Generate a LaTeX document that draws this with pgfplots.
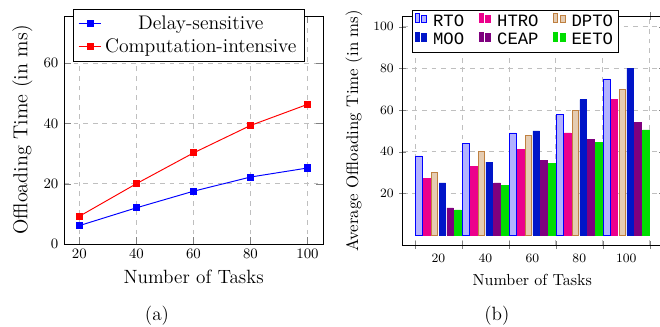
\documentclass[border=0pt]{standalone}
\usepackage{fontspec}
\usepackage{pgfplots}
\pgfplotsset{compat=1.18}
\newfontfamily\legmono{Liberation Mono}
\definecolor{htro}{HTML}{EC008C}
\definecolor{moo}{HTML}{0015C8}
\definecolor{ceap}{HTML}{7F007F}
\definecolor{eeto}{HTML}{00DD00}
\definecolor{gridgray}{HTML}{BFBFBF}
\begin{document}
\begin{tikzpicture}
\useasboundingbox (-40pt,-51.25pt) rectangle (372.5pt,152.5pt);
\begin{axis}[
  scale only axis, width=162pt, height=142.5pt,
  xmin=14.6, xmax=105.5, ymin=0, ymax=75.6,
  xtick={20,40,60,80,100}, ytick={0,20,40,60},
  grid=major, grid style={dashed, gridgray},
  tick label style={font=\fontsize{9}{10}\selectfont},
  xlabel={Number of Tasks}, ylabel={Offloading Time (in ms)},
  xlabel style={font=\fontsize{12}{14}\selectfont},
  ylabel style={font=\fontsize{12.6}{14}\selectfont},
  legend style={at={(0.035,1.03)}, anchor=north west, font=\fontsize{12.3}{14}\selectfont},
  legend cell align=center,
  legend image code/.code={\draw[mark repeat=2,mark phase=2,#1] plot coordinates {(0cm,0cm) (0.25cm,0cm) (0.5cm,0cm)};},
]
\addplot[blue, line width=0.6pt, mark=square*, mark size=1.9pt] coordinates {(20,6.1) (40,12.0) (60,17.5) (80,22.2) (100,25.2)};
\addlegendentry{Delay-sensitive}
\addplot[red, line width=0.6pt, mark=square*, mark size=1.9pt] coordinates {(20,9.2) (40,20.0) (60,30.2) (80,39.3) (100,46.3)};
\addlegendentry{Computation-intensive}
\end{axis}
\begin{axis}[
  at={(211.7pt,-0.6pt)},
  scale only axis, width=162pt, height=143pt,
  ybar, bar width=0.14,
  xmin=0.24, xmax=5.76, ymin=-4.8, ymax=105.1,
  xtick={1,2,3,4,5}, xticklabels={20,40,60,80,100},
  major x tick style={draw=none},
  minor xtick={0.5,1.5,2.5,3.5,4.5,5.5},
  xmajorgrids=false, xminorgrids=true, ymajorgrids=true,
  ytick={20,40,60,80,100},
  minor tick length=5pt, tick align=center,
  grid style={dashed, gridgray}, minor grid style={dashed, gridgray},
  tick label style={font=\fontsize{8}{9}\selectfont},
  xlabel={Number of Tasks}, ylabel={Average Offloading Time (in ms)},
  xlabel style={font=\fontsize{10}{12}\selectfont},
  ylabel style={font=\fontsize{10.5}{12}\selectfont},
  legend style={at={(0.035,1.029)}, anchor=north west, font=\legmono\fontsize{10.8}{13}\selectfont,
    inner xsep=1.5pt, inner ysep=1.5pt, nodes={inner sep=1.5pt},
    /tikz/every odd column/.append style={column sep=2.5pt},
    /tikz/every even column/.append style={column sep=7.5pt}},
  legend columns=3, legend cell align=center,
  legend image code/.code={\draw[#1,/tikz/.cd,yshift=-0.05em] (0pt,0pt) rectangle (2.7pt,5.8pt); \draw[#1,/tikz/.cd,yshift=-0.05em] (4.1pt,0pt) rectangle (7.2pt,4.7pt);},
]
\addplot[bar shift=-0.4167, draw=blue, fill=blue!30] coordinates {(1,38) (2,44) (3,49) (4,58) (5,75)};
\addlegendentry{RTO}
\addplot[bar shift=-0.25, draw=htro, fill=htro] coordinates {(1,27) (2,33) (3,41) (4,49) (5,65)};
\addlegendentry{HTRO}
\addplot[bar shift=-0.0833, draw=brown, fill=brown!40] coordinates {(1,30) (2,40) (3,48) (4,60) (5,70)};
\addlegendentry{DPTO}
\addplot[bar shift=0.0833, draw=moo, fill=moo] coordinates {(1,25) (2,35) (3,50) (4,65) (5,80)};
\addlegendentry{MOO}
\addplot[bar shift=0.25, draw=ceap, fill=ceap] coordinates {(1,13) (2,25) (3,36) (4,46) (5,54)};
\addlegendentry{CEAP}
\addplot[bar shift=0.4167, draw=eeto, fill=eeto] coordinates {(1,12) (2,24) (3,34.5) (4,44.5) (5,50.5)};
\addlegendentry{EETO}
\end{axis}
\node[font=\fontsize{12}{14}\selectfont] at (58.1pt,-45pt) {(a)};
\node[font=\fontsize{12}{14}\selectfont] at (270.6pt,-45pt) {(b)};
\end{tikzpicture}
\end{document}
